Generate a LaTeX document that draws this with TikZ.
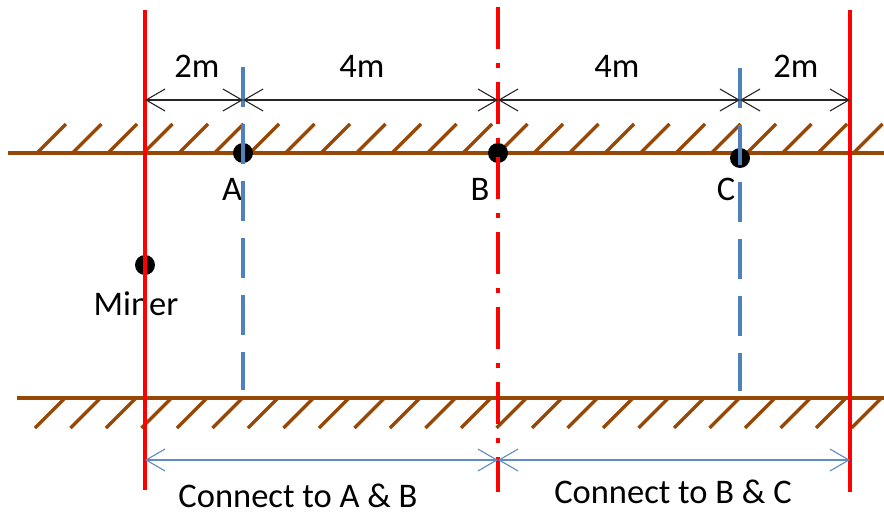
\documentclass[tikz,border=0pt]{standalone}
\usepackage{fontspec}
\setmainfont{Carlito}
\usetikzlibrary{arrows.meta}
\definecolor{ground}{RGB}{152,72,6}
\definecolor{dimblue}{RGB}{79,129,189}
\definecolor{arrblue}{RGB}{95,140,200}
\begin{document}
\begin{tikzpicture}[x=1pt,y=-1pt,
  lbl/.style={font=\fontsize{34.5}{40}\selectfont, inner sep=0pt, anchor=base, text=black},
  groundline/.style={draw=ground, line width=4pt},
  hatch/.style={draw=ground, line width=3.5pt},
  redline/.style={draw=red, line width=4pt},
  bluedash/.style={draw=dimblue, line width=4pt, dash pattern=on 40pt off 17pt},
  reddashdot/.style={draw=red, line width=4pt, dash pattern=on 42pt off 14pt on 5pt off 14pt},
  dot/.style={circle, fill=black, minimum size=20pt, inner sep=0pt},
  dimarrow/.style={draw=black!85, line width=1.1pt, {Straight Barb[length=19pt,width=22pt]}-{Straight Barb[length=19pt,width=22pt]}},
  conarrow/.style={draw=arrblue, line width=1.1pt, {Straight Barb[length=19pt,width=22pt]}-{Straight Barb[length=19pt,width=22pt]}}
]
\useasboundingbox (0,0) rectangle (884,514);
\fill[white] (0,0) rectangle (884,514);

% ground lines
\coordinate (gTL) at (8,153);
\coordinate (gTR) at (884,153);
\coordinate (gBL) at (17,398);
\coordinate (gBR) at (884,398);
\draw[groundline] (gTL) -- (gTR);
\draw[groundline] (gBL) -- (gBR);
\foreach \k in {0,...,23} {
  \draw[hatch] ({37+35.5*\k},153) -- ++(29,-29);
  \draw[hatch] ({65+35.5*\k},398) -- ++(-30,30);
}

% labels
\node[lbl] (t2a) at (197,77) {2m};
\node[lbl] (t4a) at (362,77) {4m};
\node[lbl] (t4b) at (617,77) {4m};
\node[lbl] (t2b) at (796,77) {2m};
\node[lbl] (lA) at (232,200) {A};
\node[lbl] (lB) at (480,200) {B};
\node[lbl] (lC) at (726,200) {C};
\node[lbl] (lM) at (136,315) {Miner};
\node[lbl] (cAB) at (298,507) {Connect to A \& B};
\node[lbl] (cBC) at (673,503) {Connect to B \& C};

% points
\node[dot] (A) at (243,153) {};
\node[dot] (B) at (498,153) {};
\node[dot] (C) at (740,158) {};
\node[dot] (M) at (145,265) {};

% vertical lines
\coordinate (rLt) at (145,10);
\coordinate (rLb) at (145,490);
\coordinate (rRt) at (850,10);
\coordinate (rRb) at (850,492);
\coordinate (rMt) at (498,7);
\coordinate (rMb) at (498,492);
\coordinate (bAt) at (243,67);
\coordinate (bAb) at (243,390);
\coordinate (bCt) at (740,68);
\coordinate (bCb) at (740,391);
\draw[redline] (rLt) -- (rLb);
\draw[redline] (rRt) -- (rRb);
\draw[reddashdot] (rMt) -- (rMb);
\draw[bluedash] (bAt) -- (bAb);
\draw[bluedash] (bCt) -- (bCb);

% dimension arrows
\coordinate (dL) at (145,100);
\coordinate (dA) at (243,100);
\coordinate (dB) at (498,100);
\coordinate (dC) at (740,100);
\coordinate (dR) at (850,100);
\draw[dimarrow] (dL) -- (dA);
\draw[dimarrow] (dA) -- (dB);
\draw[dimarrow] (dB) -- (dC);
\draw[dimarrow] (dC) -- (dR);

% connect arrows
\coordinate (kL) at (145,460);
\coordinate (kB) at (498,460);
\coordinate (kR) at (850,460);
\draw[conarrow] (kL) -- (kB);
\draw[conarrow] (kB) -- (kR);
\end{tikzpicture}
\end{document}
